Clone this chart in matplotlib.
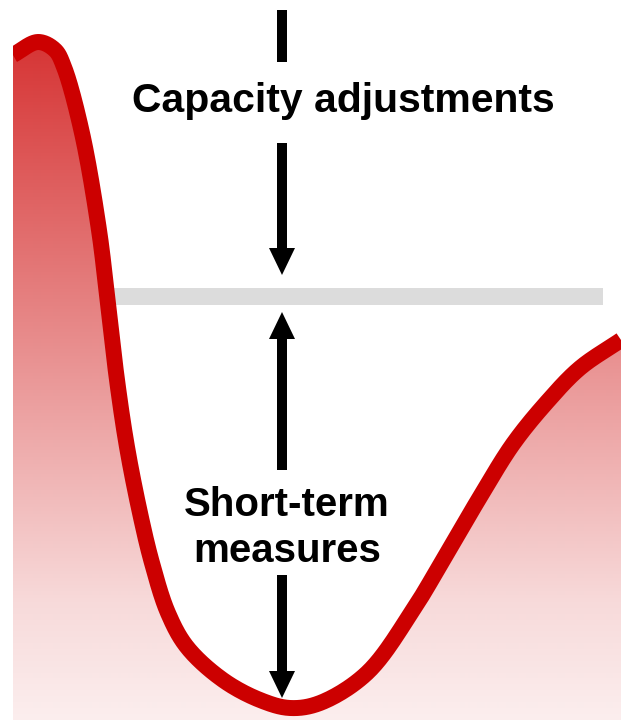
import numpy as np
import matplotlib
matplotlib.use("Agg")
import matplotlib.pyplot as plt
from matplotlib.patches import Polygon, Rectangle

# ── Data (pixel space of the original picture, y grows downwards) ──
curve_x = [13, 38, 55, 64, 82, 99, 107, 117, 127, 140, 152, 168, 187, 223,
           260, 290, 320, 367, 413, 447, 480, 513, 547, 580, 621]
curve_y = [55, 42, 50, 67, 133, 230, 295, 380, 447, 513, 563, 613, 647, 680,
           700, 708, 703, 673, 610, 553, 497, 444, 402, 368, 340]

threshold_y = 296
top_label = "Capacity adjustments"
bottom_label = "Short-term\nmeasures"

W, H = 621, 720
RED = "#cc0000"


def catmull_rom(xs, ys, n=24):
    # centripetal Catmull-Rom, only to draw a smooth line through the points
    pts = np.column_stack([xs, ys]).astype(float)
    pts = np.vstack([2 * pts[0] - pts[1], pts, 2 * pts[-1] - pts[-2]])
    out = []
    for i in range(1, len(pts) - 2):
        p0, p1, p2, p3 = pts[i - 1], pts[i], pts[i + 1], pts[i + 2]
        t0 = 0.0
        t1 = t0 + np.linalg.norm(p1 - p0) ** 0.5
        t2 = t1 + np.linalg.norm(p2 - p1) ** 0.5
        t3 = t2 + np.linalg.norm(p3 - p2) ** 0.5
        t = np.linspace(t1, t2, n, endpoint=False)[:, None]
        a1 = (t1 - t) / (t1 - t0) * p0 + (t - t0) / (t1 - t0) * p1
        a2 = (t2 - t) / (t2 - t1) * p1 + (t - t1) / (t2 - t1) * p2
        a3 = (t3 - t) / (t3 - t2) * p2 + (t - t2) / (t3 - t2) * p3
        b1 = (t2 - t) / (t2 - t0) * a1 + (t - t0) / (t2 - t0) * a2
        b2 = (t3 - t) / (t3 - t1) * a2 + (t - t1) / (t3 - t1) * a3
        out.append((t2 - t) / (t2 - t1) * b1 + (t - t1) / (t2 - t1) * b2)
    out.append(pts[-2][None, :])
    out = np.vstack(out)
    return out[:, 0], out[:, 1]


sx, sy = catmull_rom(curve_x, curve_y)

fig = plt.figure(figsize=(W / 100, H / 100), dpi=100)
ax = fig.add_axes([0, 0, 1, 1])
ax.set_xlim(0, W)
ax.set_ylim(H, 0)
ax.set_axis_off()

# ── Gradient fill under the curve ─────────────────────────────────
rows = np.arange(H)
alpha = np.interp(rows, [40, 300, 600, 720], [0.80, 0.50, 0.15, 0.07])
grad = np.zeros((H, 1, 4))
grad[:, 0, 0] = 0.80
grad[:, 0, 3] = alpha
img = ax.imshow(grad, extent=[0, W, H, 0], aspect="auto", zorder=1,
                interpolation="bilinear")
poly = Polygon(np.column_stack([np.r_[sx, W, curve_x[0]],
                                np.r_[sy, H, H]]),
               closed=True, transform=ax.transData)
img.set_clip_path(poly)

# ── Threshold band ────────────────────────────────────────────────
ax.add_patch(Rectangle((112, threshold_y - 8.5), 603 - 112, 17,
                       color="#dcdcdc", lw=0, zorder=2))

# ── Curve ─────────────────────────────────────────────────────────
line, = ax.plot(sx, sy, color=RED, lw=11.5, solid_capstyle="butt",
                solid_joinstyle="round", zorder=3)
line.set_clip_path(Rectangle((curve_x[0], 0), W, H, transform=ax.transData))

# ── Arrows ────────────────────────────────────────────────────────
AX = 282
akw = dict(width=10, head_width=26, head_length=27, length_includes_head=True,
           color="black", lw=0, zorder=4)
ax.add_patch(Rectangle((AX - 5, 10), 10, 52, color="black", lw=0, zorder=4))
ax.arrow(AX, 143, 0, 275 - 143, **akw)
ax.arrow(AX, 470, 0, 312 - 470, **akw)
ax.arrow(AX, 575, 0, 698 - 575, **akw)

# ── Labels ────────────────────────────────────────────────────────
font = ["Liberation Sans", "DejaVu Sans"]
ax.text(343, 101, top_label, ha="center", va="center", fontsize=29.4,
        fontweight="bold", family=font, zorder=5)
ax.text(287, 528, bottom_label, ha="center", va="center", fontsize=29,
        fontweight="bold", family=font, linespacing=1.25, zorder=5)

fig.savefig("out.png", dpi=100)
